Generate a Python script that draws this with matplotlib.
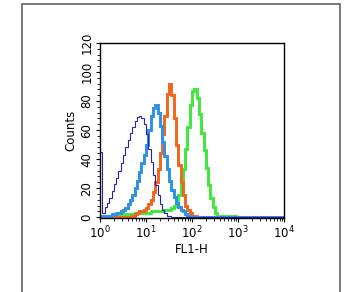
import numpy as np
import matplotlib
matplotlib.use("Agg")
import matplotlib.pyplot as plt
from matplotlib.patches import Rectangle
from matplotlib.ticker import MultipleLocator, LogLocator, NullFormatter
import matplotlib.transforms as mtransforms

# histogram bins: log10 edges from 0 to 4 (80 bins of 0.05 decade)
log_edge_start = 0.0
log_edge_stop = 4.0
n_bins = 80

navy_counts = [45, 3, 7, 10, 13, 18, 23, 27, 32, 37,
               43, 48, 53, 58, 62, 66, 69, 70, 68, 64,
               57, 47, 38, 29, 22, 15, 9, 5, 3, 1,
               1] + [0] * 49
lightblue_counts = [0, 1, 1, 1, 1, 2, 2, 3, 3, 4,
                    5, 6, 9, 12, 15, 20, 25, 31, 37, 43,
                    50, 60, 70, 75, 77, 72, 63, 52, 42, 33,
                    25, 19, 14, 10, 7, 5, 4, 2, 1, 1] + [0] * 40
orange_counts = [0] * 14 + [1, 2, 3, 4, 4, 5,
                            6, 9, 12, 17, 24, 33, 44, 57, 70, 85,
                            92, 84, 68, 50, 36, 24, 15, 8, 5, 3,
                            1, 1] + [0] * 38
green_counts = [0] * 6 + [1, 1, 1, 2, 2, 2, 2, 2, 2, 3,
                          3, 3, 3, 3, 3, 3, 4, 4, 4, 4,
                          4, 4, 5, 5, 5, 6, 8, 11, 15, 23,
                          33, 47, 62, 77, 87, 88, 82, 71, 58, 46,
                          34, 22, 13, 7, 3, 1, 1, 0, 1, 0,
                          1, 0, 1, 0, 0] + [0] * 19

x_tick_labels = [r"$10^0$", r"$10^1$", r"$10^2$", r"$10^3$", r"$10^4$"]
y_ticks = [0, 20, 40, 60, 80, 100, 120]

fig = plt.figure(figsize=(3.55, 2.92), dpi=100)
fig.patches.append(Rectangle((22 / 355, -0.1), (340 - 22) / 355, 1.1 - 4 / 292,
                             transform=fig.transFigure, fill=False,
                             edgecolor="#6e6e6e", linewidth=1.3))
ax = fig.add_axes([100 / 355, 1 - 218 / 292, 184 / 355, 175 / 292])

edges = 10 ** np.linspace(log_edge_start, log_edge_stop, n_bins + 1)

def draw(counts, color, lw):
    c = np.asarray(counts, dtype=float)
    ax.stairs(c, edges, color=color, linewidth=lw, baseline=None)

draw(green_counts, "#3ee83a", 2.1)
draw(orange_counts, "#f2651c", 2.1)
draw(lightblue_counts, "#2e90e6", 2.1)
draw(navy_counts, "#2b22a6", 0.8)

ax.set_xscale("log")
ax.set_xlim(1, 1e4)
ax.set_ylim(-0.6, 120)
ax.set_xticks([1, 10, 100, 1000, 10000])
ax.set_xticklabels(x_tick_labels)
ax.xaxis.set_minor_locator(LogLocator(base=10, subs=np.arange(2, 10)))
ax.xaxis.set_minor_formatter(NullFormatter())
ax.set_yticks(y_ticks)
ax.yaxis.set_minor_locator(MultipleLocator(4))
ax.tick_params(axis="y", which="minor", length=2, width=0.6)
ax.tick_params(axis="x", labelsize=8.5, length=3, width=0.8, pad=2)
ax.tick_params(axis="x", which="minor", length=2, width=0.6)
ax.tick_params(axis="y", which="major", length=3, width=0.8, labelleft=False)

# rotated y tick labels
trans = mtransforms.blended_transform_factory(ax.transAxes, ax.transData)
for v in y_ticks:
    ax.text(-0.035, v, str(v), transform=trans, rotation=90,
            ha="right", va="center", fontsize=8.5, clip_on=False)

for s in ax.spines.values():
    s.set_linewidth(1.0)
ax.set_ylabel("Counts", fontsize=8.5, labelpad=11)
ax.set_xlabel("FL1-H", fontsize=8.5, labelpad=1)

fig.savefig("out.png", dpi=100)
